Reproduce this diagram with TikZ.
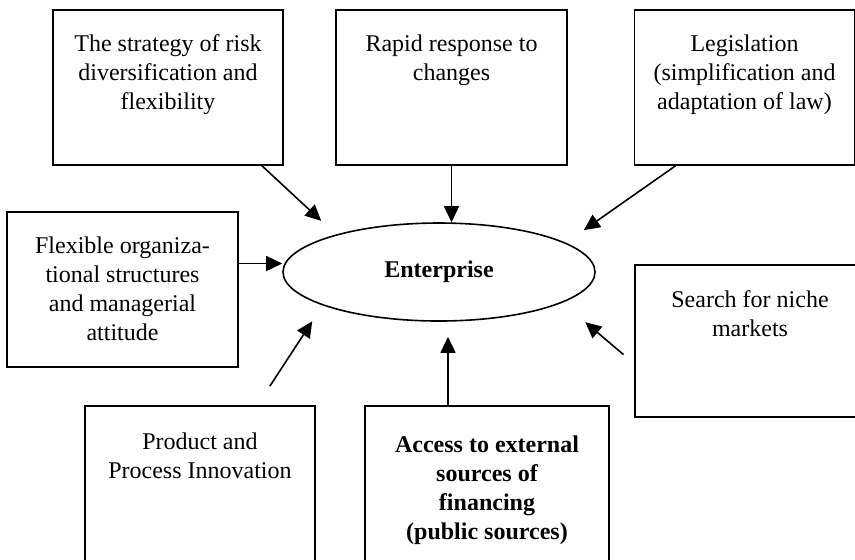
\documentclass[tikz,border=0pt]{standalone}
\usepackage{fontspec}
\setmainfont{Liberation Serif}
\usetikzlibrary{positioning,shapes.geometric,arrows.meta}
\tikzset{
  factor/.style={draw, line width=0.8pt, minimum height=77.5pt},
  factortext/.style={align=center, inner sep=0pt, font=\fontsize{12}{14.5}\selectfont},
  arr/.style={line width=0.8pt, -{Triangle[length=8pt,width=7.5pt]}}
}
\begin{document}
\begin{tikzpicture}[x=0.5pt,y=-0.5pt]
        \useasboundingbox (0,0) rectangle (855,559);
        \node[factor, minimum width=115pt] (risk) at (168,87.5) {};
        \node[factor, minimum width=115.5pt] (rapid) at (451.5,87.5) {};
        \node[factor, minimum width=110pt] (law) at (744.5,87.5) {};
        \node[factor, minimum width=115.5pt] (flex) at (122.5,289.5) {};
        \node[factor, minimum width=115pt, minimum height=76pt] (niche) at (750,341) {};
        \node[factor, minimum width=115pt] (innov) at (200,483.5) {};
        \node[factor, minimum width=122pt] (finance) at (487,483.5) {};
        \node[factortext, below=12.5pt of risk.north] (risk-t) {The strategy of risk\\diversification and\\flexibility};
        \node[factortext, below=12.5pt of rapid.north] (rapid-t) {Rapid response to\\changes};
        \node[factortext, below=12.5pt of law.north] (law-t) {Legislation\\(simplification and\\adaptation of law)};
        \node[factortext, below=12.5pt of flex.north] (flex-t) {Flexible organiza-\\tional structures\\and managerial\\attitude};
        \node[factortext, below=13pt of niche.north] (niche-t) {Search for niche\\markets};
        \node[factortext, below=13.5pt of innov.north] (innov-t) {Product and\\Process Innovation};
        \node[factortext, font=\fontsize{12}{14.5}\selectfont\bfseries, below=15pt of finance.north] (finance-t) {Access to external\\sources of\\financing\\(public sources)};
        \node[draw, ellipse, line width=0.8pt, minimum width=156pt, minimum height=49pt, font=\fontsize{12}{14.5}\selectfont\bfseries] (ent) at (439,272) {Enterprise};
        \draw[arr, shorten >=10pt] ([xshift=47pt]risk.south) -- (ent.160);
        \draw[arr] (rapid.south) -- (rapid.south |- ent.north);
        \draw[arr, shorten >=11pt] ([xshift=-34.5pt]law.south) -- (ent.13);
        \draw[arr] ([yshift=13pt]flex.east) -- ([yshift=13pt]flex.east -| ent.west);
        \draw[arr, shorten <=11.4pt, shorten >=9.5pt] ([xshift=28.7pt]innov.north) -- (ent.196);
        \draw[arr, shorten >=7.5pt] ([xshift=-19.5pt]finance.north) -- ([xshift=-19.5pt]finance.north |- ent.south);
        \draw[arr, shorten <=7pt, shorten >=15pt] ([yshift=-11.3pt]niche.west) -- (ent.346);
    \end{tikzpicture}
\end{document}
